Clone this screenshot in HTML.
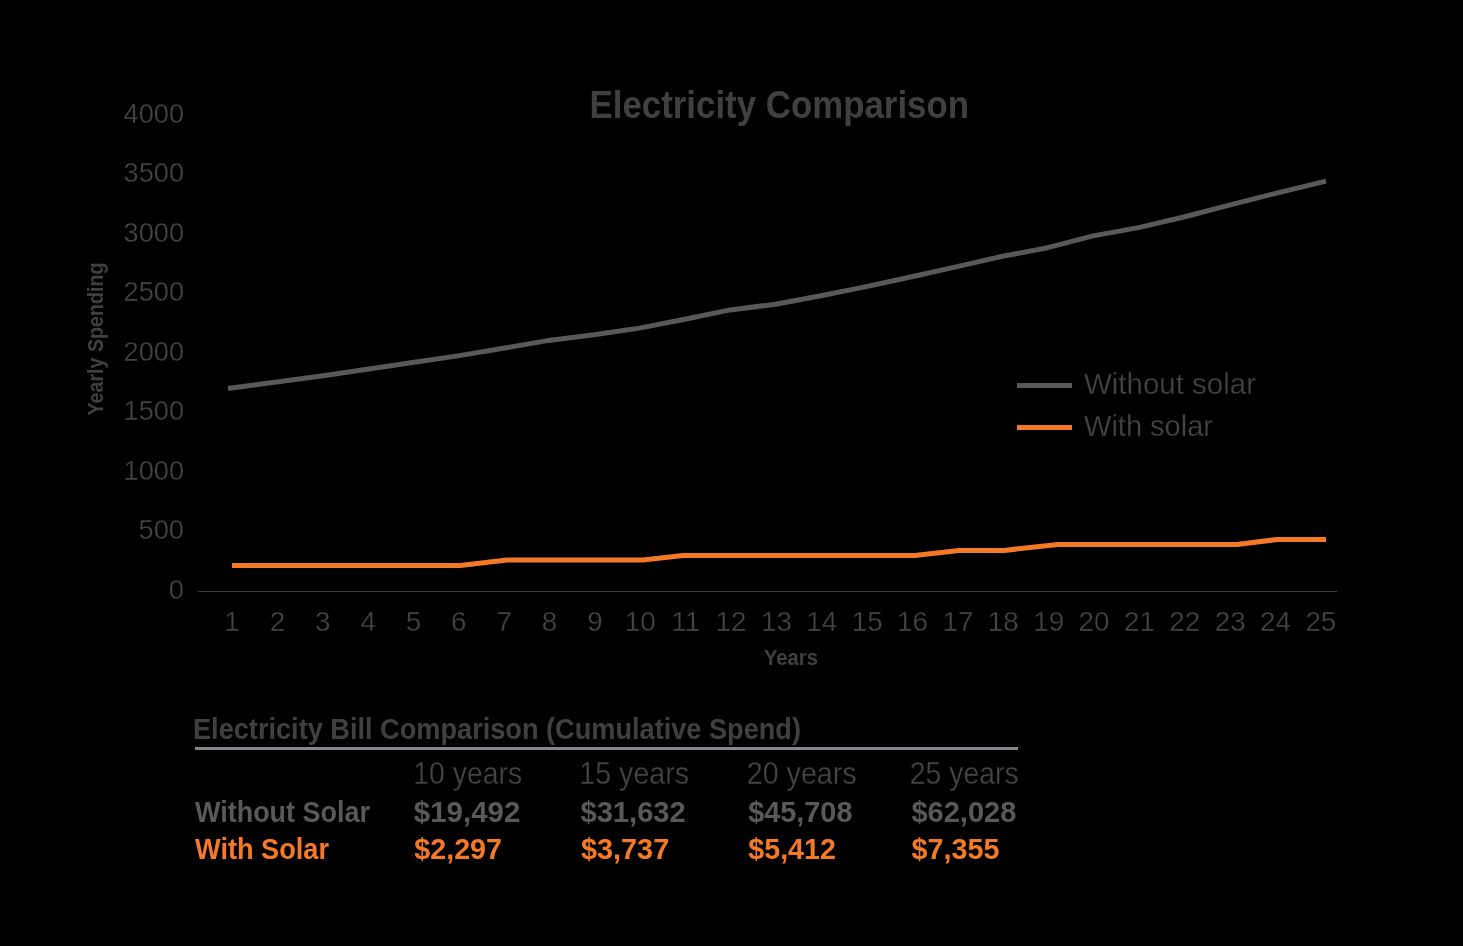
<!DOCTYPE html>
<html><head><meta charset="utf-8"><style>
html,body{margin:0;padding:0;background:#000;width:1463px;height:946px;overflow:hidden}
svg{display:block;font-family:"Liberation Sans", sans-serif}
#c{position:absolute;left:0;top:0;width:1463px;height:946px;will-change:transform}
</style></head><body>
<div id="c"><svg width="1463" height="946" viewBox="0 0 1463 946">
<rect width="1463" height="946" fill="#000"/>
<text x="589.5" y="117.9" font-size="38.4" font-weight="bold" textLength="379.5" lengthAdjust="spacingAndGlyphs" fill="#404040" >Electricity Comparison</text>
<text x="184" y="598.7" font-size="27.8" stroke="#000" stroke-width="0.3" textLength="15.2" lengthAdjust="spacingAndGlyphs" text-anchor="end" fill="#444444" >0</text>
<text x="184" y="539.2" font-size="27.8" stroke="#000" stroke-width="0.3" textLength="45.4" lengthAdjust="spacingAndGlyphs" text-anchor="end" fill="#444444" >500</text>
<text x="184" y="479.7" font-size="27.8" stroke="#000" stroke-width="0.3" textLength="60.4" lengthAdjust="spacingAndGlyphs" text-anchor="end" fill="#444444" >1000</text>
<text x="184" y="420.2" font-size="27.8" stroke="#000" stroke-width="0.3" textLength="60.4" lengthAdjust="spacingAndGlyphs" text-anchor="end" fill="#444444" >1500</text>
<text x="184" y="360.7" font-size="27.8" stroke="#000" stroke-width="0.3" textLength="60.4" lengthAdjust="spacingAndGlyphs" text-anchor="end" fill="#444444" >2000</text>
<text x="184" y="301.2" font-size="27.8" stroke="#000" stroke-width="0.3" textLength="60.4" lengthAdjust="spacingAndGlyphs" text-anchor="end" fill="#444444" >2500</text>
<text x="184" y="241.7" font-size="27.8" stroke="#000" stroke-width="0.3" textLength="60.4" lengthAdjust="spacingAndGlyphs" text-anchor="end" fill="#444444" >3000</text>
<text x="184" y="182.2" font-size="27.8" stroke="#000" stroke-width="0.3" textLength="60.4" lengthAdjust="spacingAndGlyphs" text-anchor="end" fill="#444444" >3500</text>
<text x="184" y="122.7" font-size="27.8" stroke="#000" stroke-width="0.3" textLength="60.4" lengthAdjust="spacingAndGlyphs" text-anchor="end" fill="#444444" >4000</text>
<text x="232.0" y="631" font-size="27.8" stroke="#000" stroke-width="0.3" text-anchor="middle" fill="#444444" >1</text>
<text x="277.37" y="631" font-size="27.8" stroke="#000" stroke-width="0.3" text-anchor="middle" fill="#444444" >2</text>
<text x="322.74" y="631" font-size="27.8" stroke="#000" stroke-width="0.3" text-anchor="middle" fill="#444444" >3</text>
<text x="368.11" y="631" font-size="27.8" stroke="#000" stroke-width="0.3" text-anchor="middle" fill="#444444" >4</text>
<text x="413.48" y="631" font-size="27.8" stroke="#000" stroke-width="0.3" text-anchor="middle" fill="#444444" >5</text>
<text x="458.85" y="631" font-size="27.8" stroke="#000" stroke-width="0.3" text-anchor="middle" fill="#444444" >6</text>
<text x="504.22" y="631" font-size="27.8" stroke="#000" stroke-width="0.3" text-anchor="middle" fill="#444444" >7</text>
<text x="549.59" y="631" font-size="27.8" stroke="#000" stroke-width="0.3" text-anchor="middle" fill="#444444" >8</text>
<text x="594.96" y="631" font-size="27.8" stroke="#000" stroke-width="0.3" text-anchor="middle" fill="#444444" >9</text>
<text x="640.33" y="631" font-size="27.8" stroke="#000" stroke-width="0.3" text-anchor="middle" fill="#444444" >10</text>
<text x="685.7" y="631" font-size="27.8" stroke="#000" stroke-width="0.3" text-anchor="middle" fill="#444444" >11</text>
<text x="731.07" y="631" font-size="27.8" stroke="#000" stroke-width="0.3" text-anchor="middle" fill="#444444" >12</text>
<text x="776.44" y="631" font-size="27.8" stroke="#000" stroke-width="0.3" text-anchor="middle" fill="#444444" >13</text>
<text x="821.81" y="631" font-size="27.8" stroke="#000" stroke-width="0.3" text-anchor="middle" fill="#444444" >14</text>
<text x="867.18" y="631" font-size="27.8" stroke="#000" stroke-width="0.3" text-anchor="middle" fill="#444444" >15</text>
<text x="912.55" y="631" font-size="27.8" stroke="#000" stroke-width="0.3" text-anchor="middle" fill="#444444" >16</text>
<text x="957.92" y="631" font-size="27.8" stroke="#000" stroke-width="0.3" text-anchor="middle" fill="#444444" >17</text>
<text x="1003.29" y="631" font-size="27.8" stroke="#000" stroke-width="0.3" text-anchor="middle" fill="#444444" >18</text>
<text x="1048.66" y="631" font-size="27.8" stroke="#000" stroke-width="0.3" text-anchor="middle" fill="#444444" >19</text>
<text x="1094.03" y="631" font-size="27.8" stroke="#000" stroke-width="0.3" text-anchor="middle" fill="#444444" >20</text>
<text x="1139.4" y="631" font-size="27.8" stroke="#000" stroke-width="0.3" text-anchor="middle" fill="#444444" >21</text>
<text x="1184.77" y="631" font-size="27.8" stroke="#000" stroke-width="0.3" text-anchor="middle" fill="#444444" >22</text>
<text x="1230.14" y="631" font-size="27.8" stroke="#000" stroke-width="0.3" text-anchor="middle" fill="#444444" >23</text>
<text x="1275.51" y="631" font-size="27.8" stroke="#000" stroke-width="0.3" text-anchor="middle" fill="#444444" >24</text>
<text x="1320.88" y="631" font-size="27.8" stroke="#000" stroke-width="0.3" text-anchor="middle" fill="#444444" >25</text>
<rect x="198" y="591" width="1139" height="1" fill="#3d3d3d"/>
<text x="0" y="0" font-size="21.5" font-weight="bold" fill="#404040" textLength="153" lengthAdjust="spacingAndGlyphs" transform="translate(102.8 415.5) rotate(-90)">Yearly Spending</text>
<text x="764" y="664.9" font-size="21.4" font-weight="bold" textLength="54" lengthAdjust="spacingAndGlyphs" fill="#404040" >Years</text>
<polyline points="228.00,388.40 276.38,382.00 321.75,375.90 367.12,369.20 412.50,362.50 457.88,355.90 503.25,348.30 548.62,340.40 594.00,334.80 639.38,328.10 684.75,319.30 730.12,309.90 775.50,304.20 820.88,295.80 866.25,286.60 911.62,276.70 957.00,266.60 1002.38,256.30 1047.75,247.70 1093.12,235.90 1138.50,227.60 1183.88,217.00 1229.25,205.20 1274.62,193.60 1326.00,181.10" fill="none" stroke="#595959" stroke-width="5" stroke-linejoin="round"/>
<polyline points="232.00,565.50 460.00,565.50 507.00,560.00 643.00,560.00 683.00,555.40 914.50,555.40 959.00,550.40 1004.00,550.40 1058.00,544.50 1237.00,544.50 1277.00,539.50 1326.00,539.50" fill="none" stroke="#F47A28" stroke-width="5" stroke-linejoin="round"/>
<rect x="1017" y="383" width="55" height="5" fill="#595959"/>
<rect x="1017" y="425" width="55" height="5" fill="#F47A28"/>
<text x="1084" y="394.4" font-size="30" stroke="#000" stroke-width="0.3" textLength="172" lengthAdjust="spacingAndGlyphs" fill="#444444" >Without solar</text>
<text x="1084" y="435.6" font-size="30" stroke="#000" stroke-width="0.3" textLength="129" lengthAdjust="spacingAndGlyphs" fill="#444444" >With solar</text>
<text x="193" y="739.3" font-size="30.3" font-weight="bold" textLength="608" lengthAdjust="spacingAndGlyphs" fill="#404040" >Electricity Bill Comparison (Cumulative Spend)</text>
<rect x="195" y="747" width="823" height="3" fill="#86878b"/>
<text x="413.3" y="784.2" font-size="31.5" stroke="#000" stroke-width="0.3" textLength="108.8" lengthAdjust="spacingAndGlyphs" fill="#444444" >10 years</text>
<text x="579.3" y="784.2" font-size="31.5" stroke="#000" stroke-width="0.3" textLength="109.8" lengthAdjust="spacingAndGlyphs" fill="#444444" >15 years</text>
<text x="746.8" y="784.2" font-size="31.5" stroke="#000" stroke-width="0.3" textLength="109.8" lengthAdjust="spacingAndGlyphs" fill="#444444" >20 years</text>
<text x="909.8" y="784.2" font-size="31.5" stroke="#000" stroke-width="0.3" textLength="108.8" lengthAdjust="spacingAndGlyphs" fill="#444444" >25 years</text>
<text x="195" y="822" font-size="30.4" font-weight="bold" textLength="175" lengthAdjust="spacingAndGlyphs" fill="#595959" >Without Solar</text>
<text x="195" y="859" font-size="30.4" font-weight="bold" textLength="134" lengthAdjust="spacingAndGlyphs" fill="#F47A28" >With Solar</text>
<text x="413.8" y="822" font-size="30.4" font-weight="bold" textLength="106.5" lengthAdjust="spacingAndGlyphs" fill="#595959" >$19,492</text>
<text x="580.5" y="822" font-size="30.4" font-weight="bold" textLength="105.2" lengthAdjust="spacingAndGlyphs" fill="#595959" >$31,632</text>
<text x="748.3" y="822" font-size="30.4" font-weight="bold" textLength="104.1" lengthAdjust="spacingAndGlyphs" fill="#595959" >$45,708</text>
<text x="911.4" y="822" font-size="30.4" font-weight="bold" textLength="105" lengthAdjust="spacingAndGlyphs" fill="#595959" >$62,028</text>
<text x="414.3" y="859" font-size="30.4" font-weight="bold" textLength="87.7" lengthAdjust="spacingAndGlyphs" fill="#F47A28" >$2,297</text>
<text x="581" y="859" font-size="30.4" font-weight="bold" textLength="88.2" lengthAdjust="spacingAndGlyphs" fill="#F47A28" >$3,737</text>
<text x="748.3" y="859" font-size="30.4" font-weight="bold" textLength="87.6" lengthAdjust="spacingAndGlyphs" fill="#F47A28" >$5,412</text>
<text x="911.4" y="859" font-size="30.4" font-weight="bold" textLength="88" lengthAdjust="spacingAndGlyphs" fill="#F47A28" >$7,355</text>
</svg></div>
</body></html>
